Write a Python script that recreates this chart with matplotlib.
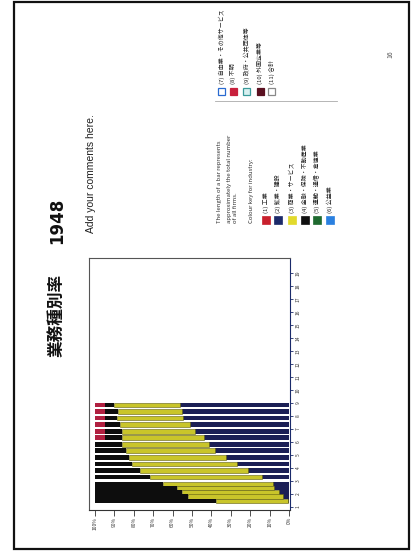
import matplotlib
matplotlib.use("Agg")
import matplotlib.pyplot as plt
import numpy as np
from matplotlib.patches import Rectangle
from matplotlib.lines import Line2D

plt.rcParams['font.family'] = ['Noto Sans CJK JP', 'DejaVu Sans']

# ---------------- data ----------------
title_main = "業務種別率"
title_year = "1948"
comment = "Add your comments here."

# stacked shares per bar (top bar in picture first), percent
navy   = [56, 55, 54.5, 51, 48.5, 44, 41, 38, 32.5, 27, 21, 14, 8.5, 8, 5, 3, 0.5]
yellow = [34, 33, 34, 36, 37.5, 42, 45, 46, 50, 54, 56, 57.5, 56.5, 50, 50, 49, 37]
black  = [5, 7, 6.5, 8, 9, 9, 14, 16, 17.5, 19, 23, 28.5, 35, 42, 45, 48, 62.5]
red    = [5, 5, 5, 5, 5, 5, 0, 0, 0, 0, 0, 0, 0, 0, 0, 0, 0]

pct_ticks = list(range(0, 101, 10))
pct_labels = [f"{v}%" for v in pct_ticks]
cat_ticks = list(range(19))
cat_labels = [str(v + 1) for v in cat_ticks]

note_lines = ["The length of a bar represents",
              "approximately the total number",
              "of all firms."]
key_title = "Colour key for industry:"
key1_labels = ["(1) 工業", "(2) 鉱業・建設", "(3) 商業・サービス",
               "(4) 金融・保険・不動産業", "(5) 運輸・通信・倉庫業", "(6) 公益業"]
key1_colors = ["#c8202c", "#1c2a6a", "#e2da2c", "#101010", "#1f6a30", "#2a80e0"]
key2_labels = ["(7) 自由業・その他サービス", "(8) 不明", "(9) 政府・公共団体等",
               "(10) 外国企業等", "(11) 合計"]
key2_faces = ["#ffffff", "#c8203c", "#d8f0f0", "#5a1020", "#ffffff"]
key2_edges = ["#2a6ad0", "#c8203c", "#3a9a9a", "#5a1020", "#888888"]
page_no = "16"

# ---------------- layout helpers ----------------
W, H = 416, 553
fig = plt.figure(figsize=(W / 100, H / 100), dpi=100)
fig.patch.set_facecolor("white")

def fx(x):
    return x / W

def fy(y):
    return 1 - y / H

def vtext(x, y, s, size, **kw):
    fig.text(fx(x), fy(y), s, rotation=90, ha="center", va="bottom",
             fontsize=size, **kw)

def prect(x0, y0, x1, y1, **kw):
    fig.add_artist(Rectangle((fx(x0), fy(y1)), (x1 - x0) / W, (y1 - y0) / H,
                             transform=fig.transFigure, **kw))

# outer frame of the scanned page
prect(14, 2, 409, 549, fill=False, edgecolor="#111111", linewidth=1.6)

# titles
vtext(57, 357, title_main, 12, fontweight="bold", color="#111111")
vtext(57, 244, title_year, 12, fontweight="bold", color="#111111",
      family="DejaVu Sans")
vtext(91, 233, comment, 7.5, color="#222222", family="Liberation Sans")

# ---------------- chart ----------------
ax = fig.add_axes([fx(89), fy(510), (290 - 89) / W, (510 - 258) / H])
n_upper = 12
n_lower = len(navy) - n_upper
pos = np.concatenate([7.85 - 0.504 * np.arange(n_upper),
                      1.77 - 0.323 * np.arange(n_lower)])
hgt = np.array([0.37] * n_upper + [0.33] * n_lower)

navy_a, yel_a, blk_a, red_a = map(np.array, (navy, yellow, black, red))
ax.barh(pos, navy_a, height=hgt, left=0, color="#1b1f55", linewidth=0)
ax.barh(pos, yel_a, height=hgt, left=navy_a, color="#c9c52a",
        edgecolor="#5e5c12", linewidth=0.4)
ax.barh(pos, blk_a, height=hgt, left=navy_a + yel_a, color="#0d0d0d", linewidth=0)
ax.barh(pos, red_a, height=hgt, left=navy_a + yel_a + blk_a, color="#b02040",
        linewidth=0)

ax.set_xlim(103.1, -0.5)
ax.set_ylim(-0.23, 19.15)
ax.set_xticks(pct_ticks)
ax.set_xticklabels(pct_labels, rotation=90, fontsize=3.5, color="#333333")
ax.yaxis.tick_right()
ax.set_yticks(cat_ticks)
ax.set_yticklabels(cat_labels, rotation=90, fontsize=3.5, color="#333333",
                   va="center")
ax.tick_params(axis="x", length=4, width=0.6, pad=1, color="#333333")
ax.tick_params(axis="y", length=2, width=0.6, pad=2, color="#1a2a6a")
for side, col in [("left", "#555555"), ("top", "#555555"),
                  ("bottom", "#333333"), ("right", "#1a2a6a")]:
    ax.spines[side].set_color(col)
    ax.spines[side].set_linewidth(0.8)

# ---------------- notes and colour keys ----------------
vtext(219.5, 223, note_lines[0], 4.3, color="#333333")
vtext(229.5, 223, note_lines[1], 4.3, color="#333333")
vtext(235.5, 223, note_lines[2], 4.3, color="#333333")
vtext(252, 223, key_title, 4.3, color="#333333")

key1_x = [266, 278.3, 292, 305, 316.7, 330]
for x, lab, col in zip(key1_x, key1_labels, key1_colors):
    prect(x - 4, 216, x + 4, 224, facecolor=col, edgecolor=col, linewidth=0.5)
    vtext(x, 213, lab, 4.3, color="#222222")

key2_x = [221.7, 233.3, 246.7, 260, 271.7]
for x, lab, fc, ec in zip(key2_x, key2_labels, key2_faces, key2_edges):
    prect(x - 3.5, 88, x + 3.5, 95, facecolor=fc, edgecolor=ec, linewidth=0.9)
    vtext(x, 84, lab, 4.3, color="#222222")

fig.add_artist(Line2D([fx(215), fx(337)], [fy(101), fy(101)],
                      transform=fig.transFigure, color="#aaaaaa", linewidth=0.6))

vtext(390, 58, page_no, 5, color="#555555")

fig.savefig("out.png", dpi=100)
